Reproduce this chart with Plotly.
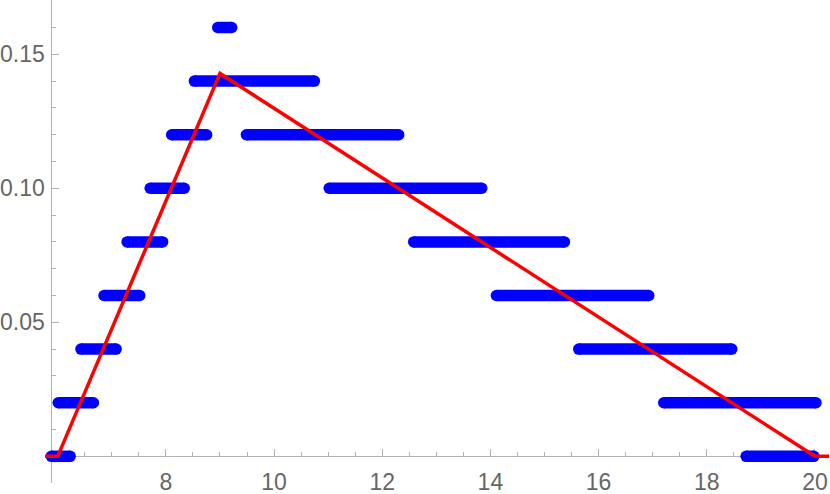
import plotly.graph_objects as go

# Blue point runs: each run is a level (y) and the x span covered by the dense points
levels = [0.00, 0.02, 0.04, 0.06, 0.08, 0.10, 0.12, 0.14, 0.16,
          0.12, 0.10, 0.08, 0.06, 0.04, 0.02, 0.00]
run_start = [5.883, 6.01, 6.43, 6.857, 7.283, 7.71, 8.107, 8.527, 8.958,
             9.488, 11.02, 12.582, 14.111, 15.633, 17.205, 18.728]
run_end = [6.23, 6.66, 7.08, 7.516, 7.94, 8.34, 8.754, 10.746, 9.217,
           12.305, 13.84, 15.369, 16.928, 18.462, 20.02, 19.98]

# Red triangular density line
pdf_x = [5.7, 6.0, 9.0, 20.0, 20.4]
pdf_y = [0.0, 0.0, 0.142857, 0.0, 0.0]

x_ticks = [8, 10, 12, 14, 16, 18, 20]
y_ticks = [0.05, 0.10, 0.15]
y_tick_text = ["0.05", "0.10", "0.15"]

BLUE = "rgb(0,0,255)"
RED = "rgb(255,0,0)"
AXIS = "#b3b3b3"
LABEL = "#666666"
FS = 23

bx, by = [], []
for lv, s, e in zip(levels, run_start, run_end):
    bx += [s, e, None]
    by += [lv, lv, None]

fig = go.Figure()
fig.add_trace(go.Scatter(
    x=bx, y=by, mode="lines+markers",
    line=dict(color=BLUE, width=11.5),
    marker=dict(color=BLUE, size=11.5, line=dict(width=0)),
    cliponaxis=False, hoverinfo="skip", showlegend=False))
fig.add_trace(go.Scatter(
    x=pdf_x, y=pdf_y, mode="lines",
    line=dict(color=RED, width=3.5),
    hoverinfo="skip", showlegend=False))

x_range = [5.765, 20.26]
y_range = [-0.00996, 0.17026]

fig.update_layout(
    width=830, height=494,
    margin=dict(l=45, r=1, t=0, b=11),
    paper_bgcolor="white", plot_bgcolor="white",
    font=dict(family="Liberation Sans, Arial, sans-serif", size=FS, color=LABEL),
    xaxis=dict(
        range=x_range, showgrid=False, zeroline=False,
        showline=True, linecolor=AXIS, linewidth=1,
        anchor="free", position=(0 - y_range[0]) / (y_range[1] - y_range[0]),
        tickmode="array", tickvals=x_ticks,
        ticks="inside", ticklen=7, tickwidth=1, tickcolor=AXIS,
        ticklabelstandoff=5,
        minor=dict(dtick=0.5, tick0=0, ticks="inside", ticklen=4,
                   tickwidth=1, tickcolor=AXIS, showgrid=False),
        layer="below traces",
        tickfont=dict(size=FS, color=LABEL),
    ),
    yaxis=dict(
        range=y_range, showgrid=False, zeroline=False,
        showline=True, linecolor=AXIS, linewidth=1,
        anchor="free", position=(5.883 - x_range[0]) / (x_range[1] - x_range[0]),
        tickmode="array", tickvals=y_ticks, ticktext=y_tick_text,
        ticks="inside", ticklen=7, tickwidth=1, tickcolor=AXIS,
        ticklabelstandoff=2,
        minor=dict(dtick=0.01, tick0=0, ticks="inside", ticklen=4,
                   tickwidth=1, tickcolor=AXIS, showgrid=False),
        layer="below traces",
        tickfont=dict(size=FS, color=LABEL),
    ),
)

fig.write_html("out.html",
               config={"displayModeBar": False},
               post_script="document.body.style.margin='0px';document.body.style.padding='0px';")
